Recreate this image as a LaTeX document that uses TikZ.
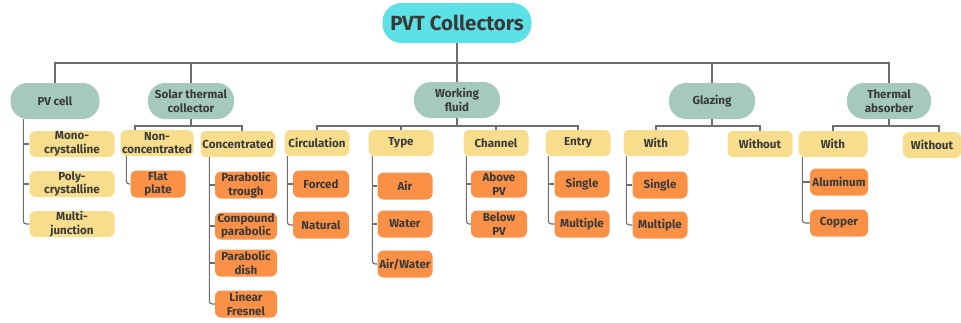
\documentclass[tikz,border=0pt]{standalone}
\usepackage{fontspec}
\setmainfont{Fira Sans}
\usetikzlibrary{calc}
\definecolor{rootcyan}{HTML}{5CE1E6}
\definecolor{catteal}{HTML}{A5C9BB}
\definecolor{subyellow}{HTML}{F8DD8C}
\definecolor{leaforange}{HTML}{FA9146}
\definecolor{linegray}{HTML}{6E6E6E}
\definecolor{textgray}{HTML}{3A3A3A}
\newcommand{\sidebranch}[4]{
	\coordinate (#1spine) at ([xshift=#2]#1.south west);
	\draw[link, rounded corners=3pt] (#1spine) |- (#3.west);
	\foreach \c in {#4} \draw[link] (#1spine |- \c.west) -- (\c.west);
}

\begin{document}
\begin{tikzpicture}[x=1pt,y=-1pt,
	box/.style={inner sep=0pt, align=center, text=textgray, font=\bfseries\fontsize{11.6}{13.6}\selectfont},
	root/.style={box, fill=rootcyan, rounded corners=19pt, minimum width=149pt, minimum height=40pt, font=\bfseries\fontsize{20.5}{24}\selectfont},
	cat/.style={box, fill=catteal, rounded corners=17pt, minimum width=86pt, minimum height=36pt},
	sub/.style={box, fill=subyellow, rounded corners=6pt, minimum width=65pt, minimum height=26pt},
	leaf/.style={box, fill=leaforange, rounded corners=6pt, minimum width=56pt, minimum height=27pt},
	link/.style={draw=linegray, line width=1.1pt}]
	\useasboundingbox (0,0) rectangle (961,322);

	\node[root] (root) at (457,23) {PVT Collectors};

	\node[cat, minimum width=89pt] (pv) at (55,101) {PV cell};
	\node[cat] (sol) at (191,101) {Solar thermal\\collector};
	\node[cat] (wf) at (457,100) {Working\\fluid};
	\node[cat] (glz) at (712,101) {Glazing};
	\node[cat, minimum width=84pt] (absb) at (889,101) {Thermal\\absorber};

	\coordinate (top) at (0,63);
	\coordinate (mid) at (0,126);
	\draw[link] (root.south) -- (root.south |- top);
	\draw[link] (pv.north) |- (absb.north |- top) -- (absb.north);
	\foreach \n in {sol,wf,glz} \draw[link] (\n.north |- top) -- (\n.north);

	% PV cell
	\node[sub, minimum width=85pt] (mono) at (72,144) {Mono-\\crystalline};
	\node[sub, minimum width=85pt] (poly) at (72,184) {Poly-\\crystalline};
	\node[sub, minimum width=85pt] (multi) at (72,224) {Multi-\\junction};
	\sidebranch{pv}{13pt}{multi}{mono,poly}

	% Solar thermal collector
	\node[sub, minimum width=73pt] (nonc) at (157,143) {Non-\\concentrated};
	\node[sub, minimum width=75pt] (conc) at (238,144) {Concentrated};
	\draw[link] (sol.south) -- (sol.south |- mid);
	\draw[link] ([xshift=-22pt]nonc.north) |- ([xshift=4pt]conc.north |- mid) -- ([xshift=4pt]conc.north);
	\node[leaf, minimum width=55pt] (flat) at (158,184) {Flat\\plate};
	\draw[link, rounded corners=3pt] ([xshift=6pt]nonc.south west) |- (flat.west);
	\node[leaf, minimum width=62pt] (ptrough) at (246,185) {Parabolic\\trough};
	\node[leaf, minimum width=62pt] (cpara) at (246,226) {Compound\\parabolic};
	\node[leaf, minimum width=62pt] (pdish) at (246,263) {Parabolic\\dish};
	\node[leaf, minimum width=62pt] (lfres) at (246,304) {Linear\\Fresnel};
	\sidebranch{conc}{9pt}{lfres}{ptrough,cpara,pdish}

	% Working fluid
	\node[sub] (circ) at (317,143) {Circulation};
	\node[sub] (type) at (401,143) {Type};
	\node[sub] (chan) at (496,143) {Channel};
	\node[sub] (entry) at (578,143) {Entry};
	\draw[link] (wf.south) -- (wf.south |- mid);
	\draw[link] (circ.north) |- (entry.north |- mid) -- (entry.north);
	\foreach \n in {type,chan} \draw[link] (\n.north |- mid) -- (\n.north);
	\node[leaf] (forced) at (321,184) {Forced};
	\node[leaf] (natural) at (321,225) {Natural};
	\sidebranch{circ}{3pt}{natural}{forced}
	\node[leaf, minimum width=55pt] (air) at (405,186) {Air};
	\node[leaf, minimum width=55pt] (water) at (405,224) {Water};
	\node[leaf, minimum width=55pt] (airwater) at (405,264) {Air/Water};
	\sidebranch{type}{4pt}{airwater}{air,water}
	\node[leaf] (above) at (499,184) {Above\\PV};
	\node[leaf] (below) at (499,224) {Below\\PV};
	\sidebranch{chan}{3pt}{below}{above}
	\node[leaf, minimum width=55pt] (esingle) at (582,184) {Single};
	\node[leaf, minimum width=55pt] (emultiple) at (582,224) {Multiple};
	\sidebranch{entry}{3pt}{emultiple}{esingle}

	% Glazing
	\node[sub] (gwith) at (656,143) {With};
	\node[sub] (gwithout) at (760,144) {Without};
	\draw[link] (glz.south) -- (glz.south |- mid);
	\draw[link] (gwith.north) |- (gwithout.north |- mid) -- (gwithout.north);
	\node[leaf, minimum width=55pt] (gsingle) at (660,185) {Single};
	\node[leaf, minimum width=55pt] (gmultiple) at (660,225) {Multiple};
	\sidebranch{gwith}{3pt}{gmultiple}{gsingle}

	% Thermal absorber
	\node[sub, minimum width=69pt] (awith) at (833,144) {With};
	\node[sub, minimum width=58pt] (awithout) at (932,145) {Without};
	\draw[link] (absb.south) -- (absb.south |- mid);
	\draw[link] (awith.north) |- ([xshift=7pt]awithout.north |- mid) -- ([xshift=7pt]awithout.north);
	\node[leaf, minimum width=58pt] (alu) at (839,182) {Aluminum};
	\node[leaf, minimum width=58pt] (copper) at (839,223) {Copper};
	\sidebranch{awith}{4pt}{copper}{alu}
\end{tikzpicture}
\end{document}
